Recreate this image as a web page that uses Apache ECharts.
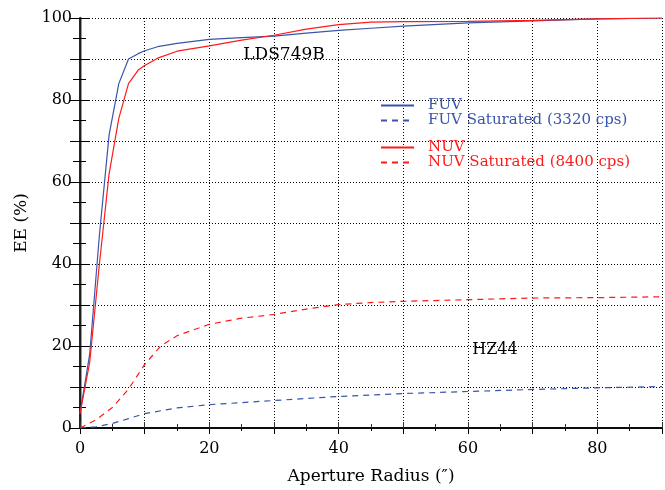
<!DOCTYPE html>
<html>
<head>
<meta charset="utf-8">
<script src="https://cdn.jsdelivr.net/npm/echarts@6/dist/echarts.min.js"></script>
<style>
html,body{margin:0;padding:0;background:#fff;}
#c{width:665px;height:490px;}
</style>
</head>
<body>
<div id="c"></div>
<script>
// ---- data ----
const fuvR = [0, 1.5, 3, 4.5, 6, 7.5, 9, 10, 12, 15, 20, 25, 30, 35, 40, 45, 50, 60, 70, 80, 90];
const fuv  = [3.5, 18, 47, 71.5, 84, 90, 91.3, 92, 93, 93.8, 94.8, 95.2, 95.6, 96.3, 97.0, 97.5, 98.0, 98.8, 99.3, 99.8, 100];
const nuvR = [0, 1.5, 3, 4.5, 6, 7.5, 9, 10, 12, 15, 20, 25, 30, 35, 40, 45, 50, 60, 70, 80, 90];
const nuv  = [3.5, 16, 40, 62, 75.5, 84, 87.3, 88.4, 90.2, 91.9, 93.2, 94.6, 95.8, 97.3, 98.4, 99.0, 99.1, 99.2, 99.4, 99.8, 100];
const fuvSatR = [0, 2.5, 5, 7.5, 10, 15, 20, 25, 30, 35, 40, 50, 60, 70, 80, 90];
const fuvSat  = [0, 0.3, 1.1, 2.3, 3.5, 4.9, 5.7, 6.2, 6.7, 7.2, 7.7, 8.4, 8.9, 9.4, 9.8, 10.1];
const nuvSatR = [0, 2.5, 5, 7.5, 10, 12.5, 15, 20, 25, 30, 35, 40, 45, 50, 60, 70, 80, 90];
const nuvSat  = [0, 2, 5, 9.5, 15.5, 20, 22.5, 25.3, 26.8, 27.7, 29, 30.1, 30.6, 30.9, 31.3, 31.7, 31.8, 32];
const seriesNames = ['FUV', 'FUV Saturated (3320 cps)', 'NUV', 'NUV Saturated (8400 cps)'];
const xTitle = 'Aperture Radius (\u2033)';
const yTitle = 'EE (%)';
const notes = ['LDS749B', 'HZ44'];

const BLUE = '#3a55aa';
const RED = '#ff1a1a';
const FONT = 'DejaVu Serif';
const zip = (a, b) => a.map((v, i) => [v, b[i]]);

const chart = echarts.init(document.getElementById('c'), null, {renderer: 'canvas'});

const grid = {left: 80, top: 18, width: 589, height: 420, containLabel: false};
const dotted = {show: true, lineStyle: {color: '#000', width: 1, type: [1, 2], opacity: 1}};

function mkLine(name, data, color, dashed) {
  return {
    name, type: 'line', data, xAxisIndex: 0, yAxisIndex: 0,
    symbol: 'none', showSymbol: false, smooth: false,
    lineStyle: {color, width: 1.2, type: dashed ? [6, 5] : 'solid'},
    itemStyle: {color},
    animation: false, z: 3
  };
}

const legendBase = {
  orient: 'vertical', padding: 0, itemGap: 0,
  itemWidth: 33, itemHeight: 14,
  itemStyle: {opacity: 0, borderWidth: 0},
  textStyle: {fontFamily: FONT, fontSize: 15, padding: [0, 0, 0, 9]}
};

const option = {
  backgroundColor: '#fff',
  animation: false,
  grid,
  xAxis: [
    {
      type: 'value', min: 0, max: 90, interval: 10, position: 'bottom',
      name: xTitle, nameLocation: 'middle', nameGap: 40,
      nameTextStyle: {fontFamily: FONT, fontSize: 17, color: '#000'},
      axisLine: {show: true, lineStyle: {color: '#333', width: 2}},
      axisTick: {show: true, inside: true, length: 6, lineStyle: {color: '#333'}},
      minorTick: {show: true, splitNumber: 2, length: 4, lineStyle: {color: '#333'}},
      axisLabel: {margin: 13, fontFamily: FONT, fontSize: 16, color: '#000',
        formatter: v => (v % 20 === 0 ? String(v) : '')},
      splitLine: dotted
    },
    {
      type: 'value', min: 0, max: 90, interval: 10, position: 'top', offset: 3,
      axisLine: {show: true, lineStyle: {color: '#000', width: 1.5}},
      axisTick: {show: true, inside: true, length: 6, lineStyle: {color: '#000'}},
      minorTick: {show: true, splitNumber: 2, length: 3, lineStyle: {color: '#000'}},
      axisLabel: {show: false}, splitLine: {show: false}
    }
  ],
  yAxis: [
    {
      type: 'value', min: 0, max: 100, interval: 10, position: 'left',
      name: yTitle, nameLocation: 'middle', nameGap: 46, nameRotate: 90,
      nameTextStyle: {fontFamily: FONT, fontSize: 17, color: '#000'},
      axisLine: {show: true, lineStyle: {color: '#777', width: 2.5}},
      axisTick: {show: true, inside: true, length: 10, lineStyle: {color: '#000'}},
      minorTick: {show: true, splitNumber: 2, length: 6, lineStyle: {color: '#000'}},
      axisLabel: {margin: 8, fontFamily: FONT, fontSize: 16, color: '#000',
        formatter: v => (v % 20 === 0 ? String(v) : '')},
      splitLine: dotted
    },
    {
      type: 'value', min: 0, max: 100, interval: 10, position: 'right',
      axisLine: {show: true, lineStyle: {color: '#000', width: 1.5}},
      axisTick: {show: true, inside: true, length: 10, lineStyle: {color: '#000'}},
      minorTick: {show: true, splitNumber: 2, length: 7, lineStyle: {color: '#000'}},
      axisLabel: {show: false}, splitLine: {show: false}
    }
  ],
  legend: [
    Object.assign({}, legendBase, {
      left: 380, top: 98,
      data: [
        {name: seriesNames[0], textStyle: {color: BLUE}},
        {name: seriesNames[1], textStyle: {color: BLUE}}
      ]
    }),
    Object.assign({}, legendBase, {
      left: 380, top: 140,
      data: [
        {name: seriesNames[2], textStyle: {color: RED}},
        {name: seriesNames[3], textStyle: {color: RED}}
      ]
    })
  ],
  graphic: [
    {type: 'text', x: 284, y: 55, z: 10,
      style: {text: notes[0], fill: '#000', font: '17px "DejaVu Serif"', align: 'center', verticalAlign: 'middle'}},
    {type: 'text', x: 495, y: 350, z: 10,
      style: {text: notes[1], fill: '#000', font: '16px "DejaVu Serif"', align: 'center', verticalAlign: 'middle'}}
  ],
  series: [
    mkLine(seriesNames[0], zip(fuvR, fuv), BLUE, false),
    mkLine(seriesNames[1], zip(fuvSatR, fuvSat), BLUE, true),
    mkLine(seriesNames[2], zip(nuvR, nuv), RED, false),
    mkLine(seriesNames[3], zip(nuvSatR, nuvSat), RED, true)
  ]
};
chart.setOption(option);
</script>
</body>
</html>
